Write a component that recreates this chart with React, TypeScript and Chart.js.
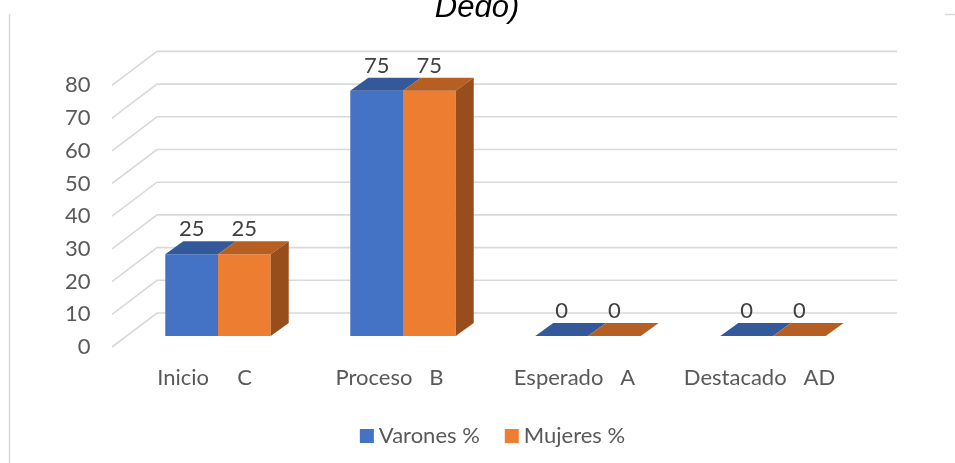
import React, { useEffect, useRef } from 'react';
import { Chart, registerables } from 'chart.js';

Chart.register(...registerables);

// ---- data ----
const categories = ['Inicio     C', 'Proceso   B', 'Esperado   A', 'Destacado   AD'];
const seriesNames = ['Varones %', 'Mujeres %'];
const varones = [25, 75, 0, 0];
const mujeres = [25, 75, 0, 0];
const yTicks = [0, 10, 20, 30, 40, 50, 60, 70, 80];
const titleText = 'Dedo)';

// ---- styles ----
const FONT = 'Lato, "Open Sans", sans-serif';
const frontColors = ['#4472C4', '#ED7D31'];
const topColors = ['#34599A', '#B65F23'];
const sideColors = ['#2E4F89', '#984E1C'];
const DX = 18;
const DY = -13;

const threeD = {
  id: 'threeD',
  beforeDatasetsDraw(chart: any) {
    const { ctx, chartArea: ca, scales } = chart;
    const y = scales.y;
    ctx.save();
    ctx.strokeStyle = '#d9d9d9';
    ctx.lineWidth = 1.6;
    for (const v of yTicks) {
      const p = y.getPixelForValue(v);
      ctx.beginPath();
      ctx.moveTo(ca.left - 13.5, p + 11);
      ctx.lineTo(ca.left + 31.5, p - 23);
      ctx.lineTo(ca.right + 31.5, p - 23);
      ctx.stroke();
    }
    ctx.restore();
  },
  afterDatasetsDraw(chart: any) {
    const { ctx } = chart;
    const n = chart.data.labels.length;
    const nd = chart.data.datasets.length;
    ctx.save();
    for (let j = 0; j < n; j++) {
      for (let i = 0; i < nd; i++) {
        const el = chart.getDatasetMeta(i).data[j];
        const { x, y, base, width } = el.getProps(['x', 'y', 'base', 'width'], true);
        const l = x - width / 2;
        const r = x + width / 2;
        // top face
        ctx.fillStyle = topColors[i];
        ctx.beginPath();
        ctx.moveTo(l, y);
        ctx.lineTo(r, y);
        ctx.lineTo(r + DX, y + DY);
        ctx.lineTo(l + DX, y + DY);
        ctx.closePath();
        ctx.fill();
        if (i === nd - 1) {
          ctx.fillStyle = sideColors[i];
          ctx.beginPath();
          ctx.moveTo(r, y);
          ctx.lineTo(r + DX, y + DY);
          ctx.lineTo(r + DX, base + DY);
          ctx.lineTo(r, base);
          ctx.closePath();
          ctx.fill();
        }
      }
    }
    // data labels
    ctx.font = `22px ${FONT}`;
    ctx.fillStyle = '#404040';
    ctx.textAlign = 'center';
    ctx.textBaseline = 'alphabetic';
    for (let i = 0; i < nd; i++) {
      const meta = chart.getDatasetMeta(i);
      meta.data.forEach((el: any, j: number) => {
        const { x, y } = el.getProps(['x', 'y'], true);
        ctx.fillText(String(chart.data.datasets[i].data[j]), x, y + DY - 5);
      });
    }
    ctx.restore();
  },
  afterDraw(chart: any) {
    const { ctx } = chart;
    ctx.save();
    // frame remnants
    ctx.strokeStyle = '#d9d9d9';
    ctx.lineWidth = 1.5;
    ctx.beginPath();
    ctx.moveTo(9.5, 14);
    ctx.lineTo(9.5, 463);
    ctx.moveTo(945, 14.5);
    ctx.lineTo(955, 14.5);
    ctx.stroke();
    // title
    ctx.font = `italic 31px "Liberation Sans", Arial, sans-serif`;
    ctx.fillStyle = '#000000';
    ctx.textAlign = 'center';
    ctx.textBaseline = 'alphabetic';
    ctx.fillText(titleText, 477, 17);
    // legend
    ctx.font = `22px ${FONT}`;
    ctx.textAlign = 'left';
    const sq = 14;
    const gapSq = 5;
    const gapItem = 25;
    const widths = chart.data.datasets.map((d: any) => ctx.measureText(d.label).width);
    const total = widths.reduce((a: number, w: number) => a + sq + gapSq + w, 0) + gapItem * (widths.length - 1);
    let lx = 492.5 - total / 2;
    chart.data.datasets.forEach((d: any, i: number) => {
      ctx.fillStyle = frontColors[i];
      ctx.fillRect(lx, 429, sq, sq);
      ctx.fillStyle = '#595959';
      ctx.fillText(d.label, lx + sq + gapSq, 443);
      lx += sq + gapSq + widths[i] + gapItem;
    });
    ctx.restore();
  },
};

export default function App() {
  const ref = useRef<HTMLCanvasElement>(null);
  useEffect(() => {
    if (!ref.current) return;
    const chart = new Chart(ref.current, {
      type: 'bar',
      data: {
        labels: categories,
        datasets: [
          { label: seriesNames[0], data: varones, backgroundColor: frontColors[0], categoryPercentage: 0.57, barPercentage: 1 },
          { label: seriesNames[1], data: mujeres, backgroundColor: frontColors[1], categoryPercentage: 0.57, barPercentage: 1 },
        ],
      },
      options: {
        responsive: false,
        animation: false,
        layout: { padding: { top: 74.4, right: 89.5, bottom: 0, left: 0 } },
        plugins: {
          legend: { display: false },
          title: { display: false },
          tooltip: { enabled: false },
        },
        scales: {
          x: {
            grid: { display: false, drawTicks: false },
            border: { display: false },
            ticks: {
              color: '#595959',
              font: { family: FONT, size: 22 },
              padding: 29,
              labelOffset: -13.5,
              autoSkip: false,
              maxRotation: 0,
              minRotation: 0,
            },
            afterFit(scale: any) {
              scale.height = 127;
              scale.paddingLeft = 0;
              scale.paddingRight = 0;
            },
          },
          y: {
            min: 0,
            max: 80,
            grid: { display: false, drawTicks: false },
            border: { display: false },
            ticks: {
              stepSize: 10,
              color: '#595959',
              font: { family: FONT, size: 22 },
              padding: 35,
              labelOffset: 11,
            },
            afterFit(scale: any) {
              scale.width = 125.5;
              scale.paddingTop = 0;
              scale.paddingBottom = 0;
            },
          },
        },
      },
      plugins: [threeD],
    });
    return () => chart.destroy();
  }, []);
  return (
    <div style={{ position: 'absolute', left: 0, top: 0, width: 955, height: 463, background: '#ffffff' }}>
      <canvas ref={ref} width={955} height={463} style={{ display: 'block' }} />
    </div>
  );
}
